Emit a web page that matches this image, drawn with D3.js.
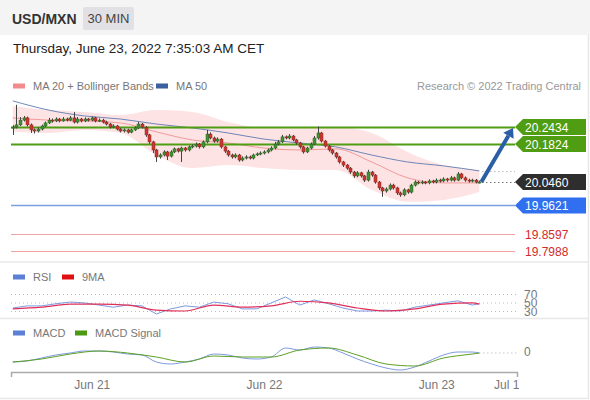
<!DOCTYPE html>
<html>
<head>
<meta charset="utf-8">
<script src="https://cdn.jsdelivr.net/npm/d3@7"></script>
<style>
  body { margin: 0; background: #fff; }
  svg { display: block; font-family: "Liberation Sans", Arial, sans-serif; }
</style>
</head>
<body>
<script>
// 30 min candles, bar 0 = Jun 20 ~13:00
var closes = [20.243,20.251,20.268,20.276,20.251,20.233,20.229,20.236,20.247,20.258,
  20.268,20.265,20.272,20.265,20.272,20.268,20.276,20.261,20.272,20.265,
  20.272,20.268,20.276,20.265,20.268,20.261,20.254,20.243,20.247,20.236,
  20.229,20.233,20.225,20.233,20.240,20.254,20.243,20.215,20.190,20.161,
  20.136,20.143,20.154,20.139,20.154,20.165,20.157,20.168,20.161,20.172,
  20.175,20.182,20.172,20.190,20.218,20.204,20.193,20.200,20.172,20.157,
  20.143,20.136,20.143,20.125,20.132,20.136,20.132,20.143,20.147,20.150,
  20.154,20.161,20.168,20.182,20.190,20.208,20.204,20.211,20.197,20.186,
  20.172,20.154,20.168,20.182,20.204,20.222,20.193,20.175,20.161,20.150,
  20.136,20.118,20.107,20.096,20.082,20.068,20.079,20.068,20.053,20.082,
  20.071,20.046,20.025,20.014,20.021,20.035,20.025,20.007,20.000,20.018,
  20.010,20.035,20.046,20.043,20.046,20.043,20.050,20.046,20.053,20.050,
  20.057,20.053,20.061,20.053,20.075,20.061,20.053,20.050,20.053,20.046,20.046];
var highs = [20.250,20.323,20.279,20.283,20.281,20.256,20.238,20.242,20.252,20.263,
  20.276,20.274,20.278,20.276,20.279,20.277,20.283,20.297,20.279,20.276,
  20.278,20.276,20.281,20.280,20.274,20.273,20.266,20.258,20.253,20.251,
  20.240,20.238,20.237,20.238,20.246,20.262,20.258,20.247,20.219,20.194,
  20.165,20.149,20.160,20.158,20.160,20.170,20.169,20.173,20.172,20.177,
  20.181,20.188,20.186,20.195,20.233,20.224,20.209,20.206,20.204,20.176,
  20.161,20.148,20.149,20.147,20.138,20.142,20.141,20.148,20.152,20.156,
  20.160,20.166,20.174,20.190,20.197,20.215,20.213,20.218,20.215,20.201,
  20.190,20.176,20.173,20.188,20.211,20.245,20.226,20.197,20.179,20.165,
  20.154,20.140,20.122,20.111,20.100,20.086,20.085,20.083,20.072,20.090,
  20.086,20.075,20.050,20.029,20.027,20.041,20.040,20.029,20.012,20.024,
  20.022,20.040,20.052,20.050,20.052,20.050,20.056,20.054,20.059,20.058,
  20.063,20.061,20.068,20.066,20.082,20.079,20.066,20.058,20.058,20.057,20.051];
var lows = [20.215,20.238,20.247,20.263,20.245,20.222,20.220,20.224,20.231,20.243,
  20.254,20.259,20.261,20.260,20.262,20.263,20.264,20.256,20.256,20.260,
  20.261,20.263,20.264,20.260,20.261,20.256,20.249,20.238,20.239,20.231,
  20.224,20.224,20.220,20.221,20.229,20.236,20.238,20.208,20.183,20.150,
  20.118,20.130,20.138,20.125,20.134,20.150,20.152,20.118,20.155,20.156,
  20.167,20.170,20.166,20.167,20.185,20.199,20.187,20.188,20.166,20.150,
  20.137,20.130,20.131,20.119,20.120,20.127,20.127,20.127,20.139,20.142,
  20.145,20.149,20.156,20.163,20.177,20.186,20.199,20.199,20.192,20.180,
  20.166,20.148,20.150,20.163,20.178,20.198,20.188,20.170,20.155,20.144,
  20.130,20.112,20.100,20.090,20.075,20.061,20.063,20.062,20.046,20.048,
  20.065,20.040,20.018,19.993,20.008,20.016,20.019,20.000,19.993,19.995,
  20.004,20.005,20.030,20.038,20.038,20.038,20.038,20.041,20.041,20.044,
  20.045,20.047,20.048,20.047,20.049,20.056,20.047,20.044,20.045,20.041,20.041];
var firstOpen = 20.240;

// indicators read every 10 bars
var bandStep = 10;
var bbUpper = [20.319,20.304,20.297,20.286,20.304,20.297,20.261,20.240,20.243,20.243,20.222,20.154,20.107,20.089];
var ma20    = [20.276,20.268,20.265,20.258,20.226,20.197,20.186,20.168,20.161,20.165,20.118,20.061,20.043,20.043];
var bbLower = [20.226,20.222,20.233,20.222,20.143,20.096,20.107,20.096,20.089,20.089,20.018,19.975,19.982,20.010];
var ma50    = [20.337,20.304,20.283,20.272,20.254,20.240,20.222,20.200,20.186,20.172,20.143,20.118,20.104,20.086];

// level lines
var levels = [20.2434, 20.1824, 20.0460, 19.9621, 19.8597, 19.7988];
var levelKind = ["res", "res", "last", "sup", "weak", "weak"];

// RSI every 4 bars (last point = bar 130), 9MA every 8 bars
var rsi = [37,42,42,47,51,49,44,39,44,42,23,35,42,39,51,47,35,35,49,63,44,56,47,37,30,30,32,30,39,44,49,54,44,47];
var rsiMA = [35,39,46,46,44,32,30,44,39,42,53,49,37,30,35,46,49,46];
var rsiLevels = [30, 50, 70];

var macd = [-0.010,-0.009,-0.006,-0.003,-0.001,0.001,0.001,0.000,-0.002,-0.003,-0.010,-0.012,-0.010,-0.007,-0.002,-0.003,-0.006,
  -0.007,-0.005,0.004,0.002,0.005,0.004,-0.001,-0.007,-0.012,-0.016,-0.018,-0.015,-0.009,-0.003,0.000,0.000,-0.001];
var macdSignal = [-0.010,-0.007,-0.002,0.001,-0.001,-0.005,-0.010,-0.004,-0.005,-0.005,0.002,0.004,-0.003,-0.012,-0.014,-0.006,-0.002,-0.001];

var tickIdx = [22, 70, 118, 137.5];
var tickLabels = ["Jun 21", "Jun 22", "Jun 23", "Jul 1"];

var width = 590, height = 400;
var lastIdx = closes.length - 1;

function sparseIdx(n, step) {
  var out = [];
  for (var i = 0; i < n; i++) out.push(Math.min(i * step, lastIdx));
  return out;
}

var svg = d3.select("body").append("svg").attr("width", width).attr("height", height);

var x = d3.scaleLinear().domain([-0.5, 140.5]).range([11, 517]);
var y = d3.scaleLinear().domain([19.7988, 20.2434]).range([251, 127]);
var yRsi = d3.scaleLinear().domain([30, 70]).range([311, 294]);
var yMacd = d3.scaleLinear().domain([-0.018, 0.005]).range([370, 347]);

// header
svg.append("rect").attr("width", width).attr("height", 35).attr("fill", "#f4f4f5");
svg.append("text").attr("x", 12).attr("y", 24).attr("font-size", 14).attr("font-weight", "bold")
  .attr("fill", "#333").text("USD/MXN");
svg.append("rect").attr("x", 83).attr("y", 7).attr("width", 51).attr("height", 23).attr("rx", 2).attr("fill", "#e1e1e5");
svg.append("text").attr("x", 108.5).attr("y", 23).attr("text-anchor", "middle").attr("font-size", 13)
  .attr("fill", "#444").text("30 MIN");
svg.append("text").attr("x", 13).attr("y", 53).attr("font-size", 13.5).attr("fill", "#222")
  .text("Thursday, June 23, 2022 7:35:03 AM CET");

// panel borders
var border = svg.append("g").attr("stroke", "#e8e8e8").attr("stroke-width", 1.5);
border.append("line").attr("x1", 588.5).attr("x2", 588.5).attr("y1", 35).attr("y2", 399);
border.append("line").attr("x1", 0).attr("x2", 589).attr("y1", 262).attr("y2", 262);
border.append("line").attr("x1", 0).attr("x2", 589).attr("y1", 318.5).attr("y2", 318.5);
border.append("line").attr("x1", 0).attr("x2", 589).attr("y1", 398.5).attr("y2", 398.5);

function legend(items, yy) {
  items.forEach(function(it) {
    svg.append("rect").attr("x", it.x).attr("y", yy - 2.5).attr("width", 12).attr("height", 5).attr("fill", it.color);
    svg.append("text").attr("x", it.x + 20).attr("y", yy + 4).attr("font-size", 11).attr("fill", "#777").text(it.label);
  });
}
legend([{x: 13, color: "#f28b8b", label: "MA 20 + Bollinger Bands"}, {x: 156, color: "#3b5f9f", label: "MA 50"}], 86);
svg.append("text").attr("x", 581).attr("y", 90).attr("text-anchor", "end").attr("font-size", 11)
  .attr("fill", "#999").text("Research \u00a9 2022 Trading Central");
legend([{x: 13, color: "#5b80d6", label: "RSI"}, {x: 62, color: "#e01010", label: "9MA"}], 277);
legend([{x: 13, color: "#5b80d6", label: "MACD"}, {x: 75, color: "#4c9a14", label: "MACD Signal"}], 333);

// bollinger + moving averages
var bIdx = sparseIdx(bbUpper.length, bandStep);
var band = d3.area().curve(d3.curveMonotoneX)
  .x(function(d, i) { return x(bIdx[i]); })
  .y0(function(d, i) { return y(bbLower[i]); })
  .y1(function(d) { return y(d); });
svg.append("path").attr("d", band(bbUpper)).attr("fill", "#fde3e3");
var maLine = d3.line().curve(d3.curveMonotoneX)
  .x(function(d, i) { return x(bIdx[i]); })
  .y(function(d) { return y(d); });
svg.append("path").attr("d", maLine(ma20)).attr("fill", "none").attr("stroke", "#f19a9a").attr("stroke-width", 1);
svg.append("path").attr("d", maLine(ma50)).attr("fill", "none").attr("stroke", "#5574b0").attr("stroke-width", 1).attr("opacity", 0.85);

// level lines
var lineEnd = 515;
levels.forEach(function(v, i) {
  var k = levelKind[i];
  var yy = Math.round(y(v)) + 0.5;
  if (k == "res") {
    svg.append("line").attr("x1", 11).attr("x2", lineEnd).attr("y1", yy).attr("y2", yy)
      .attr("stroke", "#4f9d12").attr("stroke-width", 2);
  } else if (k == "sup") {
    svg.append("line").attr("x1", 11).attr("x2", lineEnd).attr("y1", yy).attr("y2", yy)
      .attr("stroke", "#7c9fe0").attr("stroke-width", 1.5);
  } else if (k == "weak") {
    svg.append("line").attr("x1", 11).attr("x2", lineEnd).attr("y1", yy).attr("y2", yy)
      .attr("stroke", "#f3a3a3").attr("stroke-width", 1);
  } else {
    svg.append("line").attr("x1", x(lastIdx) + 3).attr("x2", lineEnd).attr("y1", yy).attr("y2", yy)
      .attr("stroke", "#333").attr("stroke-width", 1).attr("stroke-dasharray", "1,3");
  }
});
// dotted MA50 end marker
var ma50y = Math.round(y(ma50[ma50.length - 1])) + 0.5;
svg.append("line").attr("x1", x(lastIdx) + 3).attr("x2", lineEnd).attr("y1", ma50y).attr("y2", ma50y)
  .attr("stroke", "#999").attr("stroke-dasharray", "1,3");

// candles
var candles = svg.append("g");
closes.forEach(function(c, i) {
  var o = i == 0 ? firstOpen : closes[i - 1];
  var cx = Math.round(x(i)) + 0.5;
  var up = c >= o;
  candles.append("line").attr("x1", cx).attr("x2", cx).attr("y1", y(highs[i])).attr("y2", y(lows[i]))
    .attr("stroke", "#444").attr("stroke-width", 1);
  var top = y(Math.max(o, c)), bot = y(Math.min(o, c));
  candles.append("rect").attr("x", cx - 1.5).attr("y", top).attr("width", 3).attr("height", Math.max(1, bot - top))
    .attr("fill", up ? "#3f9433" : "#d2352f").attr("stroke", up ? "#2f5f26" : "#7a2a26").attr("stroke-width", 0.5);
});

// arrow to target
var ax0 = x(lastIdx) + 2, ay0 = y(levels[2]);
var ax1 = 513, ay1 = y(levels[0]) + 1;
var ang = Math.atan2(ay1 - ay0, ax1 - ax0);
var hx = ax1 - 9 * Math.cos(ang), hy = ay1 - 9 * Math.sin(ang);
svg.append("line").attr("x1", ax0).attr("y1", ay0).attr("x2", hx).attr("y2", hy)
  .attr("stroke", "#2c5ea6").attr("stroke-width", 4);
var px = -Math.sin(ang), py = Math.cos(ang);
svg.append("path").attr("fill", "#2c5ea6")
  .attr("d", "M" + ax1 + "," + ay1 + "L" + (hx + 6 * px) + "," + (hy + 6 * py) + "L" + (hx - 6 * px) + "," + (hy - 6 * py) + "Z");

// price tags
function tag(v, fill) {
  var yy = y(v);
  svg.append("path").attr("fill", fill)
    .attr("d", "M515," + yy + "L523," + (yy - 8) + "H586V" + (yy + 8) + "H523Z");
  svg.append("text").attr("x", 525).attr("y", yy + 4.5).attr("font-size", 12).attr("fill", "#fff").text(v.toFixed(4));
}
levels.forEach(function(v, i) {
  var k = levelKind[i];
  if (k == "res") tag(v, "#4f9d12");
  else if (k == "last") tag(v, "#2e2e2e");
  else if (k == "sup") tag(v, "#2f6ff0");
  else svg.append("text").attr("x", 525).attr("y", y(v) + 4.5).attr("font-size", 12).attr("fill", "#d22b2b").text(v.toFixed(4));
});

// RSI panel
rsiLevels.forEach(function(v) {
  svg.append("line").attr("x1", 11).attr("x2", 517).attr("y1", yRsi(v) + 0.5).attr("y2", yRsi(v) + 0.5)
    .attr("stroke", "#bbb").attr("stroke-dasharray", "1,3");
});
var rIdx = sparseIdx(rsi.length, 4);
var rmIdx = sparseIdx(rsiMA.length, 8);
svg.append("path").attr("fill", "none").attr("stroke", "#7d99df").attr("stroke-width", 1)
  .attr("d", d3.line().x(function(d, i) { return x(rIdx[i]); }).y(function(d) { return yRsi(d); })(rsi));
svg.append("path").attr("fill", "none").attr("stroke", "#e0305a").attr("stroke-width", 1.2)
  .attr("d", d3.line().curve(d3.curveMonotoneX).x(function(d, i) { return x(rmIdx[i]); }).y(function(d) { return yRsi(d); })(rsiMA));
rsiLevels.forEach(function(v) {
  svg.append("rect").attr("x", 522).attr("y", yRsi(v) - 4).attr("width", 20).attr("height", 9).attr("fill", "#fff");
  svg.append("text").attr("x", 524).attr("y", yRsi(v) + 4.5).attr("font-size", 12).attr("fill", "#777").text(v);
});

// MACD panel
svg.append("line").attr("x1", x(lastIdx)).attr("x2", 517).attr("y1", yMacd(0) + 1).attr("y2", yMacd(0) + 1)
  .attr("stroke", "#aaa").attr("stroke-dasharray", "1,3");
svg.append("text").attr("x", 524).attr("y", yMacd(0) + 3.5).attr("font-size", 12).attr("fill", "#777").text("0");
svg.append("path").attr("fill", "none").attr("stroke", "#7d99df").attr("stroke-width", 1)
  .attr("d", d3.line().curve(d3.curveMonotoneX).x(function(d, i) { return x(rIdx[i]); }).y(function(d) { return yMacd(d); })(macd));
svg.append("path").attr("fill", "none").attr("stroke", "#5da025").attr("stroke-width", 1)
  .attr("d", d3.line().curve(d3.curveMonotoneX).x(function(d, i) { return x(rmIdx[i]); }).y(function(d) { return yMacd(d); })(macdSignal));

// x axis
var xAxis = d3.axisBottom(x).tickValues(tickIdx)
  .tickFormat(function(d, i) { return tickLabels[i]; })
  .tickSizeInner(0).tickSizeOuter(5).tickPadding(8);
var gx = svg.append("g").attr("transform", "translate(0,372)").call(xAxis);
gx.select(".domain").attr("stroke", "#aaa").attr("stroke-width", 1.5);
gx.selectAll("text").attr("font-size", 12).attr("fill", "#777").attr("font-family", "Liberation Sans, Arial, sans-serif");
</script>
</body>
</html>
